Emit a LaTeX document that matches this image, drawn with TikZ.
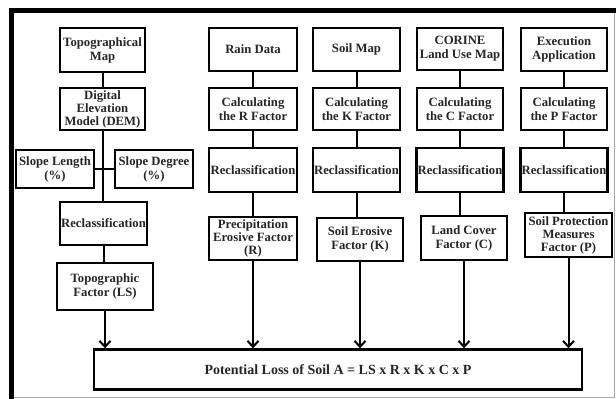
\documentclass[tikz,border=0pt]{standalone}
\usepackage{fontspec}
\setmainfont{Liberation Serif}
\usepackage{tikz}
\usetikzlibrary{arrows,arrows.meta,shapes}

\tikzset{
  box/.style 2 args={draw, line width=2.4pt, align=center, inner sep=1pt,
    minimum width=#1, minimum height=#2, text=black!85,
    font=\bfseries\fontsize{12.7}{14}\selectfont},
  link/.style={line width=2pt},
  flow/.style={line width=2pt, -{Straight Barb[length=6pt, width=11pt, line width=2pt]}}
}

\begin{document}
\begin{tikzpicture}[x=1pt, y=-1pt]

\useasboundingbox (0,0) rectangle (616,399);
\fill[white] (0,0) rectangle (616,399);

\draw[line width=5pt] (9,10.5) -- (616,10.5);
\draw[line width=5pt] (11.5,8) -- (11.5,399);
\draw[black!35, line width=1pt] (614,13) -- (614,397) -- (14,397);

\node[box={85pt}{44pt}] (topo) at (102.5,50) {Topographical\\Map};
\node[box={85pt}{42pt}, font=\bfseries\fontsize{12.7}{13}\selectfont] (dem) at (102.5,109) {Digital\\Elevation\\Model (DEM)};
\node[box={78pt}{38pt}] (slen) at (55,169) {Slope Length\\(\%)};
\node[box={78pt}{38pt}] (sdeg) at (154,169) {Slope Degree\\(\%)};
\node[box={87pt}{43pt}] (recls) at (103.5,223.5) {Reclassification};
\node[box={96pt}{47pt}] (lsfac) at (105,286.5) {Topographic\\Factor (LS)};

\node[box={88pt}{43pt}] (rain) at (253,49.5) {Rain Data};
\node[box={88pt}{42pt}] (calcr) at (253,109) {Calculating\\the R Factor};
\node[box={88pt}{44pt}] (reclr) at (253,170) {Reclassification};
\node[box={88pt}{43pt}, font=\bfseries\fontsize{12.7}{13}\selectfont] (rfac) at (253,238.5) {Precipitation\\Erosive Factor\\(R)};

\node[box={87pt}{43pt}] (soil) at (356.5,49.5) {Soil Map};
\node[box={87pt}{42pt}] (calck) at (356.5,109) {Calculating\\the K Factor};
\node[box={87pt}{44pt}] (reclk) at (356.5,170) {Reclassification};
\node[box={86pt}{43pt}] (kfac) at (360,239.5) {Soil Erosive\\Factor (K)};

\node[box={86pt}{42pt}] (corine) at (460,49) {CORINE\\Land Use Map};
\node[box={86pt}{42pt}] (calcc) at (460,109) {Calculating\\the C Factor};
\node[box={86pt}{44pt}] (reclc) at (460,170) {Reclassification};
\node[box={86pt}{44pt}] (cfac) at (464,238) {Land Cover\\Factor (C)};

\node[box={86pt}{43pt}] (exec) at (564,49.5) {Execution\\Application};
\node[box={86pt}{42pt}] (calcp) at (564,109) {Calculating\\the P Factor};
\node[box={86pt}{44pt}] (reclp) at (564,170) {Reclassification};
\node[box={87pt}{44pt}, font=\bfseries\fontsize{12.7}{13}\selectfont] (pfac) at (568.5,235) {Soil Protection\\Measures\\Factor (P)};

\node[box={488pt}{40pt}, font=\bfseries\fontsize{14}{16}\selectfont] (loss) at (338,369.5) {Potential Loss of Soil A = LS x R x K x C x P};

\draw[link] (topo) -- (dem);
\draw[link] (dem.south) -- (dem.south |- recls.north);
\draw[link] (slen.east) -- (sdeg.west);
\draw[link] (recls) -- (recls |- lsfac.north);

\draw[link] (rain) -- (calcr);
\draw[link] (calcr) -- (reclr);
\draw[link] (reclr) -- (reclr |- rfac.north);

\draw[link] (soil) -- (calck);
\draw[link] (calck) -- (reclk);
\draw[link] (reclk) -- (reclk |- kfac.north);

\draw[link] (corine) -- (calcc);
\draw[link] (calcc) -- (reclc);
\draw[link] (reclc) -- (reclc |- cfac.north);

\draw[link] (exec) -- (calcp);
\draw[link] (calcp) -- (reclp);
\draw[link] (reclp) -- (reclp |- pfac.north);

\draw[flow] (lsfac.south) -- (lsfac.south |- loss.north);
\draw[flow] (rfac.south) -- (rfac.south |- loss.north);
\draw[flow] (kfac.south) -- (kfac.south |- loss.north);
\draw[flow] (cfac.south) -- (cfac.south |- loss.north);
\draw[flow] (pfac.south) -- (pfac.south |- loss.north);

\end{tikzpicture}
\end{document}
